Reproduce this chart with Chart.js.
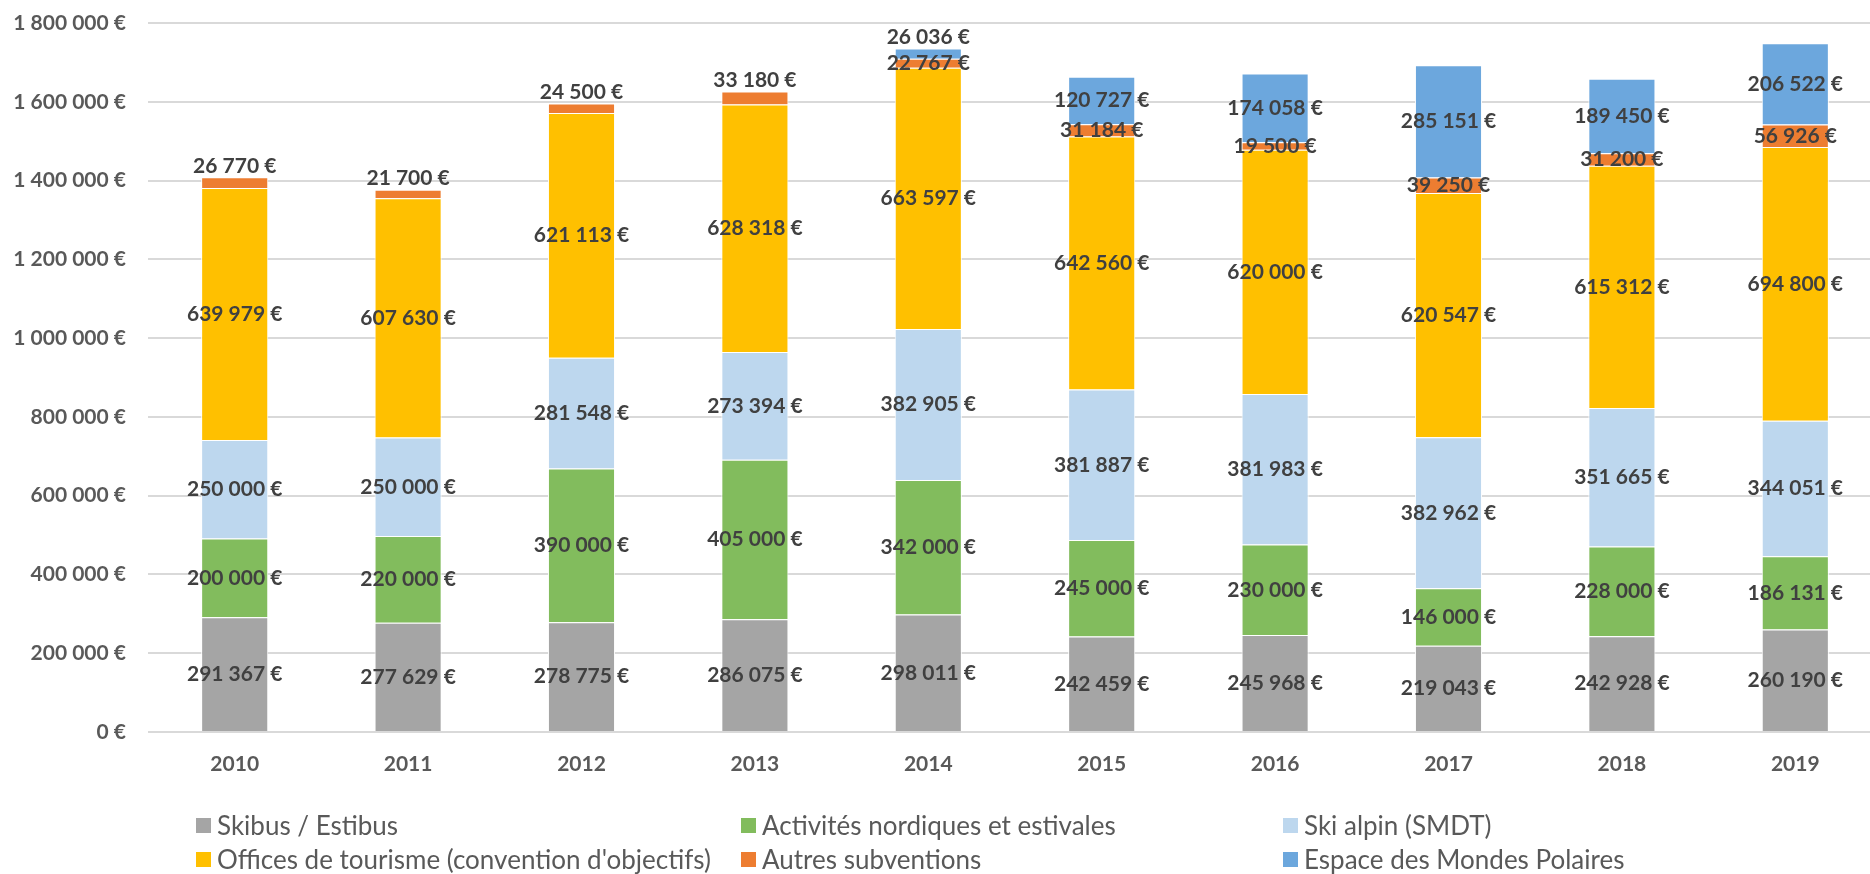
<!DOCTYPE html>
<html>
<head>
<meta charset="utf-8">
<script src="https://cdn.jsdelivr.net/npm/chart.js@4.4.1/dist/chart.umd.min.js"></script>
<style>
  html, body { margin: 0; padding: 0; background: #fff; overflow: hidden; width: 1870px; height: 874px; }
  #wrap { position: relative; width: 1884px; height: 874px; }
  #legend { position: absolute; left: 0; top: 0; width: 1870px; height: 874px; pointer-events: none;
            font-family: Lato, sans-serif; font-size: 26px; color: #595959; }
  .item { position: absolute; display: flex; align-items: center; white-space: nowrap; height: 30px; }
  .box { width: 15px; height: 15px; margin-right: 6px; box-sizing: border-box; }
</style>
</head>
<body>
<div id="wrap">
  <canvas id="chart" width="1884" height="874"></canvas>
  <div id="legend"></div>
</div>
<script>
// categories
const years = ['2010', '2011', '2012', '2013', '2014', '2015', '2016', '2017', '2018', '2019'];

// series (€)
const skibus   = [291367, 277629, 278775, 286075, 298011, 242459, 245968, 219043, 242928, 260190];
const nordique = [200000, 220000, 390000, 405000, 342000, 245000, 230000, 146000, 228000, 186131];
const skiAlpin = [250000, 250000, 281548, 273394, 382905, 381887, 381983, 382962, 351665, 344051];
const offices  = [639979, 607630, 621113, 628318, 663597, 642560, 620000, 620547, 615312, 694800];
const autres   = [26770, 21700, 24500, 33180, 22767, 31184, 19500, 39250, 31200, 56926];
const polaires = [null, null, null, null, 26036, 120727, 174058, 285151, 189450, 206522];

// y axis ticks
const yMax = 1800000;
const yStep = 200000;

function fmt(v) {
  return String(v).replace(/\B(?=(\d{3})+(?!\d))/g, ' ') + ' €';
}

const series = [
  { label: 'Skibus / Estibus', data: skibus, color: '#A5A5A5' },
  { label: 'Activités nordiques et estivales', data: nordique, color: '#82BC5D' },
  { label: 'Ski alpin (SMDT)', data: skiAlpin, color: '#BDD7EE' },
  { label: "Offices de tourisme (convention d'objectifs)", data: offices, color: '#FFC000' },
  { label: 'Autres subventions', data: autres, color: '#ED7D31' },
  { label: 'Espace des Mondes Polaires', data: polaires, color: '#6CA7DD' }
];

// labels in the middle of each segment, small top segments get theirs above the bar
const valueLabels = {
  id: 'valueLabels',
  afterDatasetsDraw(chart) {
    const ctx = chart.ctx;
    ctx.save();
    ctx.font = 'bold 21px Lato';
    ctx.fillStyle = '#404040';
    ctx.textAlign = 'center';
    ctx.textBaseline = 'middle';
    chart.data.labels.forEach((lab, i) => {
      let top = -1;
      chart.data.datasets.forEach((ds, d) => { if (ds.data[i] != null) top = d; });
      chart.data.datasets.forEach((ds, d) => {
        const v = ds.data[i];
        if (v == null) return;
        const bar = chart.getDatasetMeta(d).data[i];
        let y = (bar.y + bar.base) / 2;
        if (d === top && v < 50000) y = bar.y - 11;
        ctx.fillText(fmt(v), bar.x, y);
      });
    });
    ctx.restore();
  }
};

new Chart(document.getElementById('chart'), {
  type: 'bar',
  data: {
    labels: years,
    datasets: series.map(s => ({
      label: s.label,
      data: s.data,
      backgroundColor: s.color,
      borderColor: '#ffffff',
      borderWidth: 1,
      barPercentage: 0.387,
      categoryPercentage: 1
    }))
  },
  options: {
    responsive: false,
    animation: false,
    layout: { padding: { top: 23, left: 0, right: 2, bottom: 100 } },
    plugins: { legend: { display: false }, tooltip: { enabled: false } },
    scales: {
      x: {
        stacked: true,
        grid: { display: false, drawTicks: false },
        border: { display: false },
        ticks: { color: '#595959', font: { family: 'Lato', size: 21, weight: 'bold' }, padding: 20 },
        afterFit(scale) { scale.height = 42; }
      },
      y: {
        stacked: true,
        min: 0,
        max: yMax,
        grid: { color: '#D9D9D9', lineWidth: 2, drawTicks: true, tickLength: 22, tickColor: 'rgba(0,0,0,0)' },
        border: { display: false },
        ticks: {
          stepSize: yStep,
          color: '#595959',
          font: { family: 'Lato', size: 21, weight: 'bold' },
          padding: 0,
          callback: v => fmt(v)
        },
        afterFit(scale) { scale.width = 148; }
      }
    }
  },
  plugins: [valueLabels]
});

// legend: 3 columns x 2 rows
const colX = [196, 741, 1283];
const rowY = [825, 859];
const legend = document.getElementById('legend');
series.forEach((s, i) => {
  const it = document.createElement('div');
  it.className = 'item';
  it.style.left = colX[i % 3] + 'px';
  it.style.top = (rowY[Math.floor(i / 3)] - 15) + 'px';
  const b = document.createElement('span');
  b.className = 'box';
  b.style.background = s.color;
  const t = document.createElement('span');
  t.textContent = s.label;
  it.appendChild(b);
  it.appendChild(t);
  legend.appendChild(it);
});
</script>
</body>
</html>
